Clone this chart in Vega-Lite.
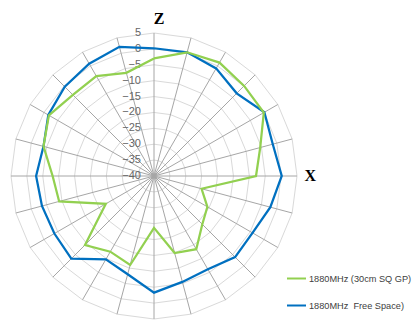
{
  "$schema": "https://vega.github.io/schema/vega-lite/v6.json",
  "width": 286,
  "height": 286,
  "autosize": "none",
  "padding": {"left": 11, "top": 33, "right": 117, "bottom": 2},
  "background": "white",
  "config": {"view": {"stroke": null}},
  "datasets": {
    "series": [
      {"series": "1880MHz\u00a0 Free Space)", "a": 0, "v": 0.2},
      {"series": "1880MHz\u00a0 Free Space)", "a": 15, "v": 0.3},
      {"series": "1880MHz\u00a0 Free Space)", "a": 30, "v": -0.9},
      {"series": "1880MHz\u00a0 Free Space)", "a": 45, "v": -3.2},
      {"series": "1880MHz\u00a0 Free Space)", "a": 60, "v": 0.1},
      {"series": "1880MHz\u00a0 Free Space)", "a": 75, "v": -1.3},
      {"series": "1880MHz\u00a0 Free Space)", "a": 90, "v": 0.2},
      {"series": "1880MHz\u00a0 Free Space)", "a": 105, "v": -2.1},
      {"series": "1880MHz\u00a0 Free Space)", "a": 120, "v": -4.2},
      {"series": "1880MHz\u00a0 Free Space)", "a": 135, "v": -3.9},
      {"series": "1880MHz\u00a0 Free Space)", "a": 150, "v": -6.1},
      {"series": "1880MHz\u00a0 Free Space)", "a": 165, "v": -5.5},
      {"series": "1880MHz\u00a0 Free Space)", "a": 180, "v": -3.3},
      {"series": "1880MHz\u00a0 Free Space)", "a": 195, "v": -8},
      {"series": "1880MHz\u00a0 Free Space)", "a": 210, "v": -9.7},
      {"series": "1880MHz\u00a0 Free Space)", "a": 225, "v": -3.2},
      {"series": "1880MHz\u00a0 Free Space)", "a": 240, "v": -3.8},
      {"series": "1880MHz\u00a0 Free Space)", "a": 255, "v": -3.5},
      {"series": "1880MHz\u00a0 Free Space)", "a": 270, "v": -2.9},
      {"series": "1880MHz\u00a0 Free Space)", "a": 285, "v": -4},
      {"series": "1880MHz\u00a0 Free Space)", "a": 300, "v": -1.6},
      {"series": "1880MHz\u00a0 Free Space)", "a": 315, "v": -0.3},
      {"series": "1880MHz\u00a0 Free Space)", "a": 330, "v": 0.8},
      {"series": "1880MHz\u00a0 Free Space)", "a": 345, "v": 2.1},
      {"series": "1880MHz\u00a0 Free Space)", "a": 360, "v": 0.2},
      {"series": "1880MHz (30cm SQ GP)", "a": 0, "v": -3},
      {"series": "1880MHz (30cm SQ GP)", "a": 15, "v": 0.3},
      {"series": "1880MHz (30cm SQ GP)", "a": 30, "v": 1.2},
      {"series": "1880MHz (30cm SQ GP)", "a": 45, "v": 0.1},
      {"series": "1880MHz (30cm SQ GP)", "a": 60, "v": -0.1},
      {"series": "1880MHz (30cm SQ GP)", "a": 75, "v": -5.4},
      {"series": "1880MHz (30cm SQ GP)", "a": 90, "v": -7.9},
      {"series": "1880MHz (30cm SQ GP)", "a": 105, "v": -24.5},
      {"series": "1880MHz (30cm SQ GP)", "a": 120, "v": -20.6},
      {"series": "1880MHz (30cm SQ GP)", "a": 135, "v": -18.5},
      {"series": "1880MHz (30cm SQ GP)", "a": 150, "v": -13.4},
      {"series": "1880MHz (30cm SQ GP)", "a": 165, "v": -14.9},
      {"series": "1880MHz (30cm SQ GP)", "a": 180, "v": -23.7},
      {"series": "1880MHz (30cm SQ GP)", "a": 195, "v": -11},
      {"series": "1880MHz (30cm SQ GP)", "a": 210, "v": -12.5},
      {"series": "1880MHz (30cm SQ GP)", "a": 225, "v": -9.3},
      {"series": "1880MHz (30cm SQ GP)", "a": 240, "v": -22.5},
      {"series": "1880MHz (30cm SQ GP)", "a": 255, "v": -9.1},
      {"series": "1880MHz (30cm SQ GP)", "a": 270, "v": -8.1},
      {"series": "1880MHz (30cm SQ GP)", "a": 285, "v": -4},
      {"series": "1880MHz (30cm SQ GP)", "a": 300, "v": -1.8},
      {"series": "1880MHz (30cm SQ GP)", "a": 315, "v": -3.9},
      {"series": "1880MHz (30cm SQ GP)", "a": 330, "v": -3.7},
      {"series": "1880MHz (30cm SQ GP)", "a": 345, "v": -6.4},
      {"series": "1880MHz (30cm SQ GP)", "a": 360, "v": -3}
    ],
    "spokes": [
      {"a": 0}, {"a": 15}, {"a": 30}, {"a": 45}, {"a": 60}, {"a": 75},
      {"a": 90}, {"a": 105}, {"a": 120}, {"a": 135}, {"a": 150}, {"a": 165},
      {"a": 180}, {"a": 195}, {"a": 210}, {"a": 225}, {"a": 240}, {"a": 255},
      {"a": 270}, {"a": 285}, {"a": 300}, {"a": 315}, {"a": 330}, {"a": 345}
    ],
    "rings": [
      {"v": 5, "a": [0,15,30,45,60,75,90,105,120,135,150,165,180,195,210,225,240,255,270,285,300,315,330,345,360]},
      {"v": 0, "a": [0,15,30,45,60,75,90,105,120,135,150,165,180,195,210,225,240,255,270,285,300,315,330,345,360]},
      {"v": -5, "a": [0,15,30,45,60,75,90,105,120,135,150,165,180,195,210,225,240,255,270,285,300,315,330,345,360]},
      {"v": -10, "a": [0,15,30,45,60,75,90,105,120,135,150,165,180,195,210,225,240,255,270,285,300,315,330,345,360]},
      {"v": -15, "a": [0,15,30,45,60,75,90,105,120,135,150,165,180,195,210,225,240,255,270,285,300,315,330,345,360]},
      {"v": -20, "a": [0,15,30,45,60,75,90,105,120,135,150,165,180,195,210,225,240,255,270,285,300,315,330,345,360]},
      {"v": -25, "a": [0,15,30,45,60,75,90,105,120,135,150,165,180,195,210,225,240,255,270,285,300,315,330,345,360]},
      {"v": -30, "a": [0,15,30,45,60,75,90,105,120,135,150,165,180,195,210,225,240,255,270,285,300,315,330,345,360]},
      {"v": -35, "a": [0,15,30,45,60,75,90,105,120,135,150,165,180,195,210,225,240,255,270,285,300,315,330,345,360]}
    ],
    "ticks": [
      {"v": 5}, {"v": 0}, {"v": -5}, {"v": -10}, {"v": -15},
      {"v": -20}, {"v": -25}, {"v": -30}, {"v": -35}, {"v": -40}
    ],
    "titles": [
      {"t": "Z", "tx": 1.6, "ty": 49.4},
      {"t": "X", "tx": 49.2, "ty": 0}
    ]
  },
  "layer": [
    {
      "data": {"name": "rings"},
      "transform": [
        {"flatten": ["a"]},
        {"calculate": "(datum.v + 40) * sin(datum.a * PI / 180)", "as": "rx"},
        {"calculate": "(datum.v + 40) * cos(datum.a * PI / 180)", "as": "ry"}
      ],
      "mark": {"type": "line", "stroke": "#d9d9d9", "strokeWidth": 1},
      "encoding": {
        "x": {"field": "rx", "type": "quantitative", "scale": {"domain": [-45, 45], "nice": false, "zero": false}, "axis": null},
        "y": {"field": "ry", "type": "quantitative", "scale": {"domain": [-45, 45], "nice": false, "zero": false}, "axis": null},
        "detail": {"field": "v", "type": "nominal"},
        "order": {"field": "a", "type": "quantitative"}
      }
    },
    {
      "data": {"name": "spokes"},
      "transform": [
        {"calculate": "0", "as": "x1"},
        {"calculate": "0", "as": "y1"},
        {"calculate": "45 * sin(datum.a * PI / 180)", "as": "x2"},
        {"calculate": "45 * cos(datum.a * PI / 180)", "as": "y2"}
      ],
      "mark": {"type": "rule", "stroke": "#a6a6a6", "strokeWidth": 1},
      "encoding": {
        "x": {"field": "x1", "type": "quantitative"},
        "y": {"field": "y1", "type": "quantitative"},
        "x2": {"field": "x2"},
        "y2": {"field": "y2"}
      }
    },
    {
      "data": {"name": "ticks"},
      "transform": [{"calculate": "datum.v + 40", "as": "r"}, {"calculate": "0", "as": "x0"}],
      "mark": {"type": "text", "align": "right", "baseline": "middle", "dx": -13, "font": "Liberation Sans", "fontSize": 11, "color": "#666666"},
      "encoding": {
        "x": {"field": "x0", "type": "quantitative"},
        "y": {"field": "r", "type": "quantitative"},
        "text": {"field": "v", "type": "quantitative"}
      }
    },
    {
      "data": {"name": "series"},
      "transform": [
        {"calculate": "(datum.v + 40) * sin(datum.a * PI / 180)", "as": "px"},
        {"calculate": "(datum.v + 40) * cos(datum.a * PI / 180)", "as": "py"}
      ],
      "mark": {"type": "line", "strokeWidth": 2.25, "strokeJoin": "miter"},
      "encoding": {
        "x": {"field": "px", "type": "quantitative"},
        "y": {"field": "py", "type": "quantitative"},
        "order": {"field": "a", "type": "quantitative"},
        "color": {
          "field": "series",
          "type": "nominal",
          "scale": {"domain": ["1880MHz (30cm SQ GP)", "1880MHz\u00a0 Free Space)"], "range": ["#92D050", "#0070C0"]},
          "legend": {
            "title": null,
            "orient": "none",
            "legendX": 275,
            "legendY": 235,
            "symbolType": "stroke",
            "symbolSize": 361,
            "symbolStrokeWidth": 2,
            "labelFont": "Liberation Sans",
            "labelFontSize": 9.2,
            "labelColor": "#404040",
            "labelOffset": 2,
            "rowPadding": 11,
            "labelLimit": 200
          }
        }
      }
    },
    {
      "data": {"name": "titles"},
      "mark": {"type": "text", "font": "Liberation Serif", "fontWeight": "bold", "fontSize": 16, "color": "#000000", "baseline": "middle", "align": "center"},
      "encoding": {
        "x": {"field": "tx", "type": "quantitative"},
        "y": {"field": "ty", "type": "quantitative"},
        "text": {"field": "t", "type": "nominal"}
      }
    }
  ]
}
